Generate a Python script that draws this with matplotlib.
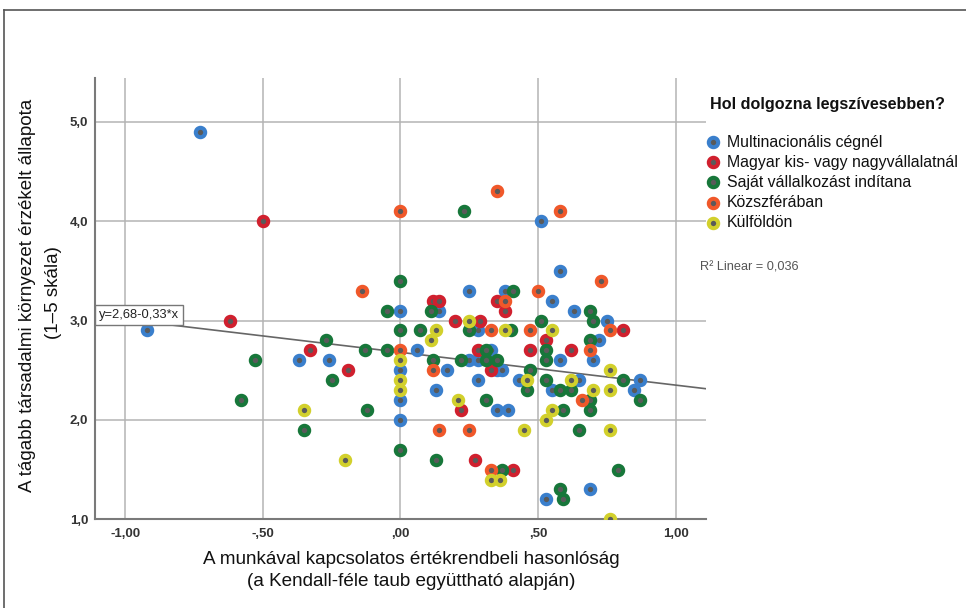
import matplotlib
matplotlib.use("Agg")
import matplotlib.pyplot as plt
from matplotlib.lines import Line2D

# Categories and colours (legend order)
categories = ["Multinacionális cégnél", "Magyar kis- vagy nagyvállalatnál",
              "Saját vállalkozást indítana", "Közszférában", "Külföldön"]
colors = ["#3a7fcc", "#d0202e", "#17773a", "#f0582a", "#d2d02c"]

# Points (x = similarity, y = perceived state)
multi_x = [-0.73, 0.51, -0.92, 0.00, -0.37, -0.26, 0.00, 0.00, 0.00, 0.58, 0.25, 0.38,
           0.55, 0.14, 0.63, 0.75, 0.28, 0.72, 0.06, 0.33, 0.25, 0.28, 0.58, 0.70,
           0.17, 0.35, 0.37, 0.28, 0.43, 0.65, 0.87, 0.13, 0.55, 0.85, 0.35, 0.39,
           0.69, 0.53]
multi_y = [4.9, 4.0, 2.9, 3.1, 2.6, 2.6, 2.5, 2.2, 2.0, 3.5, 3.3, 3.3,
           3.2, 3.1, 3.1, 3.0, 2.9, 2.8, 2.7, 2.7, 2.6, 2.6, 2.6, 2.6,
           2.5, 2.5, 2.5, 2.4, 2.4, 2.4, 2.4, 2.3, 2.3, 2.3, 2.1, 2.1,
           1.3, 1.2]

magyar_x = [-0.50, -0.62, -0.33, -0.19, 0.12, 0.14, 0.35, 0.38, 0.20, 0.29, 0.81,
            0.53, 0.28, 0.47, 0.62, 0.33, 0.22, 0.27, 0.41]
magyar_y = [4.0, 3.0, 2.7, 2.5, 3.2, 3.2, 3.2, 3.1, 3.0, 3.0, 2.9,
            2.8, 2.7, 2.7, 2.7, 2.5, 2.1, 1.6, 1.5]

sajat_x = [0.23, 0.00, -0.05, 0.00, -0.27, -0.13, -0.05, -0.53, -0.25, -0.58, -0.12,
           -0.35, 0.00, 0.41, 0.11, 0.69, 0.51, 0.70, 0.07, 0.25, 0.40, 0.69, 0.31,
           0.53, 0.12, 0.22, 0.31, 0.35, 0.53, 0.47, 0.53, 0.81, 0.46, 0.58, 0.62,
           0.31, 0.69, 0.87, 0.59, 0.69, 0.65, 0.13, 0.37, 0.79, 0.58, 0.59]
sajat_y = [4.1, 3.4, 3.1, 2.9, 2.8, 2.7, 2.7, 2.6, 2.4, 2.2, 2.1,
           1.9, 1.7, 3.3, 3.1, 3.1, 3.0, 3.0, 2.9, 2.9, 2.9, 2.8, 2.7,
           2.7, 2.6, 2.6, 2.6, 2.6, 2.6, 2.5, 2.4, 2.4, 2.3, 2.3, 2.3,
           2.2, 2.2, 2.2, 2.1, 2.1, 1.9, 1.6, 1.5, 1.5, 1.3, 1.2]

kozszfera_x = [0.00, -0.14, 0.35, 0.58, 0.73, 0.50, 0.38, 0.00, 0.33, 0.47, 0.76,
               0.69, 0.12, 0.66, 0.14, 0.25, 0.33]
kozszfera_y = [4.1, 3.3, 4.3, 4.1, 3.4, 3.3, 3.2, 2.7, 2.9, 2.9, 2.9,
               2.7, 2.5, 2.2, 1.9, 1.9, 1.5]

kulfold_x = [0.00, 0.00, 0.00, -0.35, -0.20, 0.25, 0.13, 0.38, 0.55, 0.11, 0.76,
             0.46, 0.62, 0.70, 0.76, 0.21, 0.55, 0.53, 0.45, 0.76, 0.33, 0.36, 0.76]
kulfold_y = [2.6, 2.4, 2.3, 2.1, 1.6, 3.0, 2.9, 2.9, 2.9, 2.8, 2.5,
             2.4, 2.4, 2.3, 2.3, 2.2, 2.1, 2.0, 1.9, 1.9, 1.4, 1.4, 1.0]

series_x = [multi_x, magyar_x, sajat_x, kozszfera_x, kulfold_x]
series_y = [multi_y, magyar_y, sajat_y, kozszfera_y, kulfold_y]

# Linear fit reported on the chart
intercept, slope = 2.68, -0.33
fit_label = "y=2,68-0,33*x"
r2_label = "R² Linear = 0,036"

x_ticks = [-1.0, -0.5, 0.0, 0.5, 1.0]
x_tick_labels = ["-1,00", "-,50", ",00", ",50", "1,00"]
y_ticks = [1, 2, 3, 4, 5]
y_tick_labels = ["1,0", "2,0", "3,0", "4,0", "5,0"]

sans = ["Liberation Sans", "DejaVu Sans"]
plt.rcParams["font.family"] = sans

fig = plt.figure(figsize=(9.66, 6.08), dpi=100)
ax = fig.add_axes([0.0983, 0.1459, 0.6325, 0.7266])

xlim = (-1.11, 1.11)
ax.set_xlim(*xlim)
ax.set_ylim(1.0, 5.445)

ax.set_xticks(x_ticks)
ax.set_xticklabels(x_tick_labels)
ax.set_yticks(y_ticks)
ax.set_yticklabels(y_tick_labels)
for lab in ax.get_xticklabels() + ax.get_yticklabels():
    lab.set_fontweight("bold")
    lab.set_fontsize(9.5)
    lab.set_color("#333333")
ax.tick_params(length=0)
ax.tick_params(axis="x", pad=6)
ax.tick_params(axis="y", pad=5)

ax.grid(True, color="#b4b4b4", linewidth=1.1)
ax.set_axisbelow(True)
for side in ["top", "right"]:
    ax.spines[side].set_visible(False)
for side in ["left", "bottom"]:
    ax.spines[side].set_color("#7a7a7a")
    ax.spines[side].set_linewidth(1.5)

# fit line
ax.plot(list(xlim), [intercept + slope * xlim[0], intercept + slope * xlim[1]],
        color="#666666", linewidth=1.2, zorder=2)

# points: coloured ring with grey centre
mk_size, mk_lw = 46, 2.9
for xs, ys, c in zip(series_x, series_y, colors):
    ax.scatter(xs, ys, s=mk_size, facecolor="#5a5a5a", edgecolor=c, linewidths=mk_lw, zorder=3)

ax.text(0.006, 0.462, fit_label, transform=ax.transAxes, ha="left", va="center",
        fontsize=9.3, color="#222222", zorder=5,
        bbox=dict(boxstyle="square,pad=0.3", facecolor="white", edgecolor="#777777", linewidth=1.0))

# axis labels
fig.text(411 / 966, 1 - 560 / 608, "A munkával kapcsolatos értékrendbeli hasonlóság",
         ha="center", va="center", fontsize=13.6, color="#111111")
fig.text(411 / 966, 1 - 582 / 608, "(a Kendall-féle taub együttható alapján)",
         ha="center", va="center", fontsize=13.6, color="#111111")
fig.text(28 / 966, 1 - 295 / 608, "A tágabb társadalmi környezet érzékelt állapota",
         ha="center", va="center", rotation=90, fontsize=13.5, color="#111111")
fig.text(53 / 966, 1 - 293 / 608, "(1–5 skála)",
         ha="center", va="center", rotation=90, fontsize=13.5, color="#111111")

# legend drawn by hand
fig.text(710 / 966, 1 - 104 / 608, "Hol dolgozna legszívesebben?", ha="left", va="center",
         fontsize=11.6, fontweight="bold", color="#111111")
for i, (name, c) in enumerate(zip(categories, colors)):
    py = 142 + 20.2 * i
    ax.scatter([713 / 966], [1 - py / 608], s=mk_size, facecolor="#5a5a5a", edgecolor=c,
               linewidths=mk_lw, transform=fig.transFigure, clip_on=False, zorder=4)
    fig.text(727 / 966, 1 - py / 608, name, ha="left", va="center",
             fontsize=11.4, color="#111111")

fig.text(700 / 966, 1 - 268 / 608, r2_label, ha="left", va="center",
         fontsize=9.2, color="#555555")

# outer frame (left and top edges)
fig.add_artist(Line2D([4 / 966, 4 / 966], [0, 1 - 10 / 608], transform=fig.transFigure,
                      color="#555555", linewidth=1.2))
fig.add_artist(Line2D([4 / 966, 1], [1 - 10 / 608, 1 - 10 / 608], transform=fig.transFigure,
                      color="#555555", linewidth=1.2))

fig.savefig("out.png", dpi=100)
